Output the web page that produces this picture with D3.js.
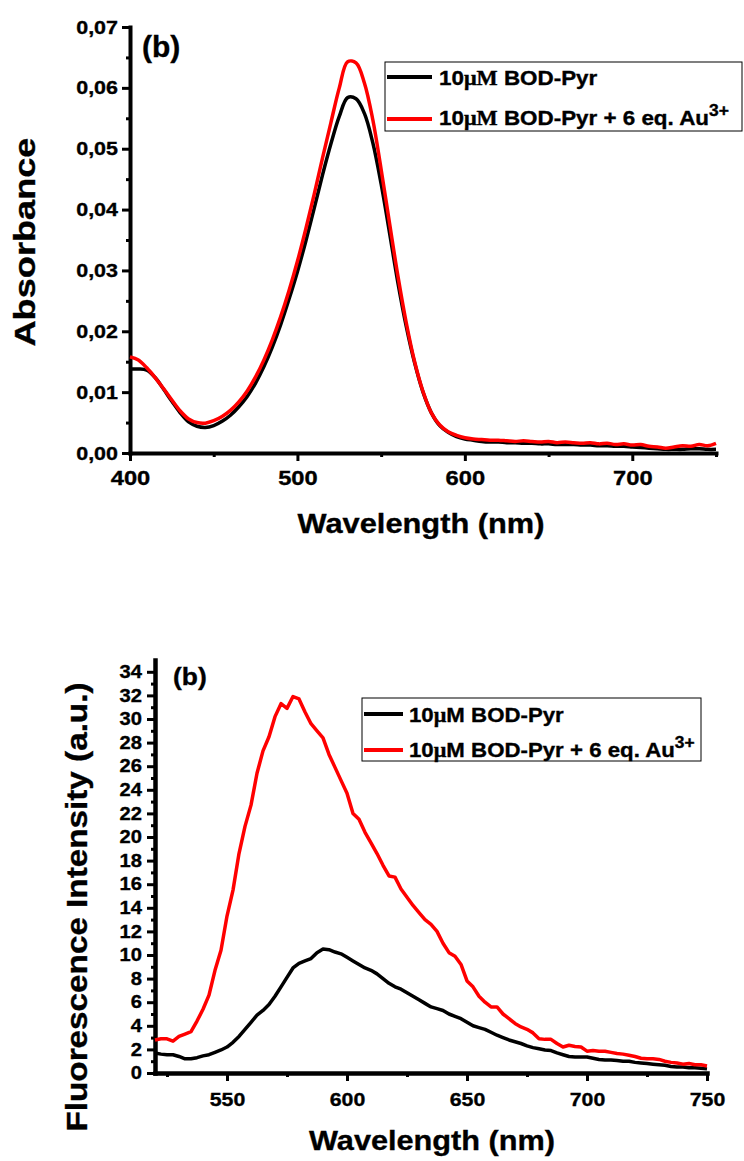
<!DOCTYPE html>
<html>
<head>
<meta charset="utf-8">
<script src="https://cdn.jsdelivr.net/npm/d3@7"></script>
<style>
  body { margin: 0; background: #fff; }
  text { font-family: 'Liberation Sans', Arial, sans-serif; font-weight: bold; fill: #000;
         stroke: #000; stroke-width: 0.35px; }
</style>
</head>
<body>
<script>
// Absorbance spectra (top panel), sampled every 5 nm.
var absWl = [400,405,410,415,420,425,430,435,440,445,450,455,460,465,470,475,480,485,490,495,
  500,505,510,515,520,525,530,535,540,545,550,555,560,565,570,575,580,585,590,595,
  600,605,610,615,620,625,630,635,640,645,650,655,660,665,670,675,680,685,690,695,
  700,705,710,715,720,725,730,735,740,745,750];
var absFree = [.0138,.0138,.0136,.0124,.0105,.0085,.0066,.0051,.0044,.0042,.0045,.0052,.0062,.0076,.0093,.0115,.0142,.0174,.0211,.0253,
  .0298,.0348,.0402,.0457,.0508,.0553,.0584,.0582,.0558,.0510,.0442,.0362,.0280,.0208,.0148,.0100,.0066,.0045,.0034,.0027,
  .0023,.0021,.0019,.0018,.0018,.0017,.0017,.0016,.0016,.0015,.0015,.0014,.0014,.0014,.0013,.0013,.0012,.0012,.0011,.0011,
  .0010,.0009,.0008,.0007,.0006,.0006,.0006,.0007,.0007,.0006,.0006];
var absAu = [.0158,.0153,.0140,.0124,.0106,.0087,.0069,.0056,.0050,.0049,.0053,.0060,.0070,.0084,.0102,.0125,.0153,.0186,.0224,.0267,
  .0315,.0368,.0425,.0485,.0543,.0600,.0643,.0641,.0608,.0548,.0466,.0378,.0291,.0214,.0150,.0101,.0066,.0046,.0035,.0029,
  .0025,.0023,.0022,.0021,.0021,.0020,.0019,.0020,.0019,.0018,.0019,.0017,.0018,.0017,.0016,.0017,.0015,.0016,.0014,.0015,
  .0013,.0014,.0011,.0010,.0008,.0010,.0012,.0011,.0014,.0012,.0016];
var absXTicks = [400, 500, 600, 700];
var absXMinor = [450, 550, 650, 750];
var absYTicks = [0, 0.01, 0.02, 0.03, 0.04, 0.05, 0.06, 0.07];
var absYMinor = [0.005, 0.015, 0.025, 0.035, 0.045, 0.055, 0.065];

// Fluorescence spectra (bottom panel), sampled every 2.5 nm.
var fluoWl = [520,522.5,525,527.5,530,532.5,535,537.5,540,542.5,545,547.5,550,552.5,555,557.5,560,562.5,565,567.5,
  570,572.5,575,577.5,580,582.5,585,587.5,590,592.5,595,597.5,600,602.5,605,607.5,610,612.5,615,617.5,
  620,622.5,625,627.5,630,632.5,635,637.5,640,642.5,645,647.5,650,652.5,655,657.5,660,662.5,665,667.5,
  670,672.5,675,677.5,680,682.5,685,687.5,690,692.5,695,697.5,700,702.5,705,707.5,710,712.5,715,717.5,
  720,722.5,725,727.5,730,732.5,735,737.5,740,742.5,745,747.5,750];
var fluoFree = [1.7,1.6,1.55,1.55,1.4,1.2,1.2,1.3,1.45,1.55,1.75,1.95,2.2,2.6,3.1,3.7,4.3,4.9,5.3,5.8,
  6.5,7.3,8.1,8.9,9.3,9.5,9.7,10.2,10.5,10.45,10.25,10.1,9.8,9.5,9.2,8.9,8.7,8.4,8.0,7.6,
  7.3,7.1,6.8,6.5,6.2,5.9,5.6,5.45,5.3,5.0,4.8,4.6,4.3,4.0,3.85,3.7,3.45,3.2,3.0,2.8,
  2.65,2.5,2.3,2.15,2.05,1.95,1.9,1.7,1.55,1.4,1.35,1.35,1.35,1.25,1.15,1.1,1.1,1.05,1.0,1.0,
  0.9,0.85,0.8,0.75,0.7,0.65,0.55,0.5,0.5,0.45,0.45,0.4,0.35];
var fluoAu = [2.8,2.9,2.9,2.7,3.1,3.3,3.5,4.4,5.4,6.6,8.7,10.4,13.3,15.5,18.6,20.9,22.7,25.4,27.3,28.5,
  30.2,31.3,30.9,31.9,31.7,30.6,29.6,29.0,28.4,27.0,25.9,24.8,23.7,22.0,21.5,20.4,19.5,18.6,17.6,16.7,
  16.6,15.6,14.9,14.2,13.6,13.0,12.6,12.0,11.0,10.2,9.9,9.2,7.8,7.3,6.5,6.0,5.6,5.6,5.0,4.6,
  4.2,3.9,3.7,3.4,2.9,2.85,2.85,2.5,2.2,2.35,2.25,2.2,1.85,1.9,1.85,1.85,1.75,1.65,1.6,1.5,
  1.4,1.25,1.2,1.2,1.15,1.0,0.9,0.85,0.75,0.8,0.7,0.7,0.6];
var fluoXTicks = [550, 600, 650, 700, 750];
var fluoXMinor = [525, 575, 625, 675, 725];
var fluoYTicks = [0,2,4,6,8,10,12,14,16,18,20,22,24,26,28,30,32,34];
var fluoYMinor = [1,3,5,7,9,11,13,15,17,19,21,23,25,27,29,31,33];

var seriesColors = ['#000000', '#ff0000'];

var svg = d3.select('body').append('svg')
    .attr('width', 744)
    .attr('height', 1161);

// Widen text horizontally around its own x, the figure's font is a bit wider than Arial.
function stretchText(sel, k) {
    sel.each(function () {
        var t = d3.select(this);
        var x = +t.attr('x') || 0;
        t.attr('transform', 'translate(' + x + ',0) scale(' + k + ',1) translate(' + (-x) + ',0)');
    });
}

function styleAxis(g, width) {
    g.select('.domain').attr('stroke-width', width).attr('stroke-linecap', 'square');
    g.selectAll('.tick line').attr('stroke-width', 3);
}

// Draw one panel: axes, curves, legend.
function drawPanel(o) {
    var x = d3.scaleLinear().domain(o.xDom).range(o.xRange);
    var y = d3.scaleLinear().domain(o.yDom).range(o.yRange);
    var g = svg.append('g');

    // Minor ticks first, without their own domain line.
    g.append('g').attr('transform', 'translate(0,' + o.yRange[0] + ')')
        .call(d3.axisBottom(x).tickValues(o.xMinor).tickSize(4).tickFormat(''))
        .call(function (a) { a.select('.domain').remove(); a.selectAll('.tick line').attr('stroke-width', 3); });
    g.append('g').attr('transform', 'translate(' + o.xRange[0] + ',0)')
        .call(d3.axisLeft(y).tickValues(o.yMinor).tickSize(4).tickFormat(''))
        .call(function (a) { a.select('.domain').remove(); a.selectAll('.tick line').attr('stroke-width', 3); });

    var xAxis = g.append('g').attr('transform', 'translate(0,' + o.yRange[0] + ')')
        .call(d3.axisBottom(x).tickValues(o.xTicks).tickSize(8).tickSizeOuter(0)
            .tickPadding(o.xPad).tickFormat(d3.format('d')));
    styleAxis(xAxis, o.axisWidth);
    xAxis.selectAll('text').style('font-size', o.xTickSize + 'px').attr('font-family', null)
        .call(stretchText, o.tickStretch);

    var yAxis = g.append('g').attr('transform', 'translate(' + o.xRange[0] + ',0)')
        .call(d3.axisLeft(y).tickValues(o.yTicks).tickSize(8).tickSizeOuter(0)
            .tickPadding(o.yPad).tickFormat(o.yFormat));
    styleAxis(yAxis, o.axisWidth);
    yAxis.selectAll('text').style('font-size', o.yTickSize + 'px').attr('font-family', null)
        .call(stretchText, o.tickStretch);

    // Curves: free probe in black, probe + Au3+ in red on top.
    o.series.forEach(function (s, i) {
        var pts = o.wl.map(function (w, j) { return [w, s[j]]; });
        g.append('path')
            .datum(pts)
            .attr('fill', 'none')
            .attr('stroke', seriesColors[i])
            .attr('stroke-width', 3.5)
            .attr('stroke-linejoin', 'round')
            .attr('d', d3.line().curve(o.curve)
                .x(function (d) { return x(d[0]); })
                .y(function (d) { return y(d[1]); }));
    });

    // Axis titles.
    g.append('text')
        .attr('x', o.xTitle[0]).attr('y', o.xTitle[1])
        .attr('text-anchor', 'middle')
        .attr('textLength', o.xTitle[2]).attr('lengthAdjust', 'spacingAndGlyphs')
        .style('font-size', '28px')
        .text('Wavelength (nm)');
    g.append('text')
        .attr('transform', 'translate(' + o.yTitle[0] + ',' + o.yTitle[1] + ') rotate(-90)')
        .attr('text-anchor', 'middle')
        .attr('textLength', o.yTitle[2]).attr('lengthAdjust', 'spacingAndGlyphs')
        .style('font-size', o.yTitle[3] + 'px')
        .text(o.yLabel);

    // Panel tag.
    g.append('text')
        .attr('x', o.tag[0]).attr('y', o.tag[1])
        .style('font-size', o.tag[2] + 'px')
        .text('(b)')
        .call(stretchText, o.tag[3]);

    // Legend.
    var L = o.legend;
    g.append('rect')
        .attr('x', L.box[0]).attr('y', L.box[1])
        .attr('width', L.box[2]).attr('height', L.box[3])
        .attr('fill', '#fff').attr('stroke', '#000').attr('stroke-width', 1);
    [0, 1].forEach(function (i) {
        g.append('line')
            .attr('x1', L.line[0]).attr('x2', L.line[1])
            .attr('y1', L.rowsY[i]).attr('y2', L.rowsY[i])
            .attr('stroke', seriesColors[i]).attr('stroke-width', 4);
        var t = g.append('text')
            .attr('x', L.textX).attr('y', L.baselines[i])
            .style('font-size', L.size + 'px');
        t.append('tspan').text('10');
        t.append('tspan').style('font-family', "'Liberation Serif', 'Times New Roman', serif")
            .text(L.serifM ? 'μM' : 'μ');
        t.append('tspan').text((L.serifM ? '' : 'M') + ' BOD-Pyr' + (i === 1 ? ' + 6 eq. Au' : ''));
        if (i === 1) {
            t.append('tspan').attr('dy', -0.45 * L.size)
                .style('font-size', (0.78 * L.size) + 'px').text('3+');
        }
        t.call(stretchText, L.stretch);
    });
}

drawPanel({
    wl: absWl, series: [absFree, absAu],
    xDom: [400, 750], xRange: [130, 716],
    yDom: [0, 0.07], yRange: [453, 27],
    xTicks: absXTicks, xMinor: absXMinor,
    yTicks: absYTicks, yMinor: absYMinor,
    yFormat: function (d) { return d3.format('.2f')(d).replace('.', ','); },
    xPad: 9, yPad: 4, xTickSize: 21, yTickSize: 19, tickStretch: 1.13,
    axisWidth: 4, curve: d3.curveCatmullRom.alpha(0.5),
    xTitle: [421, 533, 247],
    yTitle: [35, 242, 209, 30], yLabel: 'Absorbance',
    tag: [142, 57, 30, 1.0],
    legend: { box: [385, 62, 357, 69], line: [387, 432], rowsY: [77, 119],
        textX: 439, baselines: [85, 125], size: 20, serifM: true, stretch: 1.12 }
});

drawPanel({
    wl: fluoWl, series: [fluoFree, fluoAu],
    xDom: [520, 750], xRange: [155, 707],
    yDom: [0, 35], yRange: [1073, 660],
    xTicks: fluoXTicks, xMinor: fluoXMinor,
    yTicks: fluoYTicks, yMinor: fluoYMinor,
    yFormat: d3.format('d'),
    xPad: 12, yPad: 5, xTickSize: 19, yTickSize: 18, tickStretch: 1.12,
    axisWidth: 4.5, curve: d3.curveLinear,
    xTitle: [432, 1150, 246],
    yTitle: [87, 907, 449, 29], yLabel: 'Fluorescence Intensity (a.u.)',
    tag: [173, 685, 24, 1.1],
    legend: { box: [362, 698, 339, 63], line: [364, 403], rowsY: [714, 750],
        textX: 409, baselines: [722, 757], size: 21, serifM: false, stretch: 1.06 }
});
</script>
</body>
</html>
